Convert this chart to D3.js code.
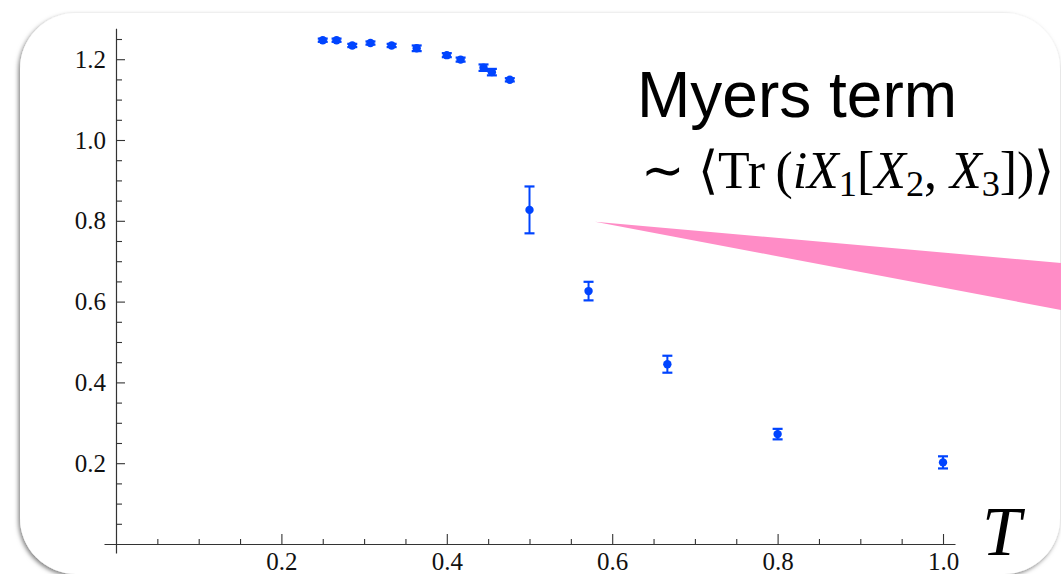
<!DOCTYPE html>
<html>
<head>
<meta charset="utf-8">
<script src="https://cdn.jsdelivr.net/npm/d3@7"></script>
<style>
  html, body { margin: 0; padding: 0; background: #fff; }
  svg { display: block; }
</style>
</head>
<body>
<script>
// --- Data ---
const temps = [0.25, 0.2667, 0.2857, 0.3077, 0.3333, 0.3636, 0.4, 0.4167, 0.4444, 0.4545, 0.4762, 0.5, 0.5714, 0.6667, 0.8, 1.0];
const myers = [1.247, 1.247, 1.234, 1.240, 1.234, 1.227, 1.210, 1.199, 1.179, 1.168, 1.149, 0.827, 0.626, 0.445, 0.272, 0.202];
const errs  = [0.004, 0.004, 0.004, 0.004, 0.004, 0.007, 0.005, 0.005, 0.008, 0.008, 0.004, 0.058, 0.023, 0.021, 0.013, 0.015];

const xMajor = [0.2, 0.4, 0.6, 0.8, 1.0];
const yMajor = [0.2, 0.4, 0.6, 0.8, 1.0, 1.2];
const xMinor = d3.range(1, 21).map(i => i * 0.05).filter(v => !xMajor.some(m => Math.abs(m - v) < 1e-6));
const yMinor = d3.range(1, 26).map(i => i * 0.05).filter(v => !yMajor.some(m => Math.abs(m - v) < 1e-6));

// --- Constants ---
const W = 1061, H = 574;
const BLUE = "#0044ff";
const AXIS = "#333";
const SERIF = "Liberation Serif, Times New Roman, serif";

const svg = d3.select("body").append("svg")
  .attr("width", W).attr("height", H);

// Drop shadow for the card
const defs = svg.append("defs");
defs.append("filter").attr("id", "shadow")
  .attr("x", "-5%").attr("y", "-5%").attr("width", "110%").attr("height", "115%")
  .append("feDropShadow")
  .attr("dx", -1.5).attr("dy", 2).attr("stdDeviation", 2.2)
  .attr("flood-color", "#000").attr("flood-opacity", 0.5);

// Card background
svg.append("rect")
  .attr("x", 20).attr("y", 13)
  .attr("width", 1040).attr("height", 561)
  .attr("rx", 56).attr("ry", 56)
  .attr("fill", "#fff")
  .attr("filter", "url(#shadow)");

// --- Scales ---
const x = d3.scaleLinear().domain([-0.0145, 1.0145]).range([104, 955]);
const y = d3.scaleLinear().domain([-0.0223, 1.2765]).range([553, 28.3]);

// --- Axes ---
function styleAxis(g) {
  g.attr("font-family", SERIF).attr("font-size", 25);
  g.select(".domain").attr("stroke", AXIS).attr("stroke-width", 1.2);
  g.selectAll(".tick line").attr("stroke", AXIS).attr("stroke-width", 1.1);
  g.selectAll(".tick text").attr("fill", "#111");
}

// minor ticks first (no domain line)
svg.append("g")
  .attr("transform", `translate(0,${y(0)})`)
  .call(d3.axisBottom(x).tickValues(xMinor).tickSize(-5).tickSizeOuter(0).tickFormat(""))
  .call(g => g.select(".domain").remove())
  .call(styleAxis);

svg.append("g")
  .attr("transform", `translate(${x(0)},0)`)
  .call(d3.axisLeft(y).tickValues(yMinor).tickSize(-6).tickSizeOuter(0).tickFormat(""))
  .call(g => g.select(".domain").remove())
  .call(styleAxis);

// major ticks with labels
svg.append("g")
  .attr("transform", `translate(0,${y(0)})`)
  .call(d3.axisBottom(x).tickValues(xMajor).tickSize(-10).tickSizeOuter(0).tickPadding(8).tickFormat(d3.format(".1f")))
  .call(styleAxis);

svg.append("g")
  .attr("transform", `translate(${x(0)},0)`)
  .call(d3.axisLeft(y).tickValues(yMajor).tickSize(-9).tickSizeOuter(0).tickPadding(10).tickFormat(d3.format(".1f")))
  .call(styleAxis);

// --- Data points with error bars ---
const pts = temps.map((t, i) => ({ t, v: myers[i], e: errs[i] }));
const gPts = svg.append("g").attr("fill", BLUE).attr("stroke", BLUE);

gPts.selectAll("line.bar").data(pts).enter().append("line")
  .attr("class", "bar")
  .attr("x1", d => x(d.t)).attr("x2", d => x(d.t))
  .attr("y1", d => y(d.v - d.e)).attr("y2", d => y(d.v + d.e))
  .attr("stroke-width", 2);

["top", "bottom"].forEach(side => {
  gPts.selectAll("line.cap-" + side).data(pts).enter().append("line")
    .attr("class", "cap-" + side)
    .attr("x1", d => x(d.t) - 5).attr("x2", d => x(d.t) + 5)
    .attr("y1", d => y(side === "top" ? d.v + d.e : d.v - d.e))
    .attr("y2", d => y(side === "top" ? d.v + d.e : d.v - d.e))
    .attr("stroke-width", 2.2);
});

gPts.selectAll("circle").data(pts).enter().append("circle")
  .attr("cx", d => x(d.t)).attr("cy", d => y(d.v))
  .attr("r", 4.2).attr("stroke", "none");

// --- Pink pointer wedge ---
svg.append("path")
  .attr("d", "M595,221.7 L1061,263 L1061,310 Z")
  .attr("fill", "#ff8cc6");

// --- Annotation ---
svg.append("text")
  .attr("x", 637).attr("y", 117)
  .attr("font-family", "Liberation Sans, Arial, sans-serif")
  .attr("font-size", 64)
  .attr("fill", "#000")
  .text("Myers term");

const math = svg.append("text")
  .attr("x", 641).attr("y", 188)
  .attr("font-family", SERIF)
  .attr("font-size", 54)
  .attr("fill", "#000");

function part(str, opts = {}) {
  const t = math.append("tspan").text(str);
  if (opts.italic) t.attr("font-style", "italic");
  if (opts.sub) t.attr("font-size", "0.7em").attr("dy", "0.22em");
  if (opts.up) t.attr("dy", "-0.154em");
  return t;
}
part("\u223C \u27E8Tr\u2009(");
part("iX", { italic: true });
part("1", { sub: true });
part("[", { up: true });
part("X", { italic: true });
part("2", { sub: true });
part(", ", { up: true });
part("X", { italic: true });
part("3", { sub: true });
part("])\u27E9", { up: true });

// fit the formula to its width in the picture
const targetW = 413;
const mw = math.node().getComputedTextLength();
math.attr("font-size", 54 * targetW / mw);

// --- Axis label ---
svg.append("text")
  .attr("x", 982).attr("y", 555)
  .attr("font-family", SERIF)
  .attr("font-style", "italic")
  .attr("font-size", 70)
  .attr("fill", "#000")
  .text("T");
</script>
</body>
</html>
